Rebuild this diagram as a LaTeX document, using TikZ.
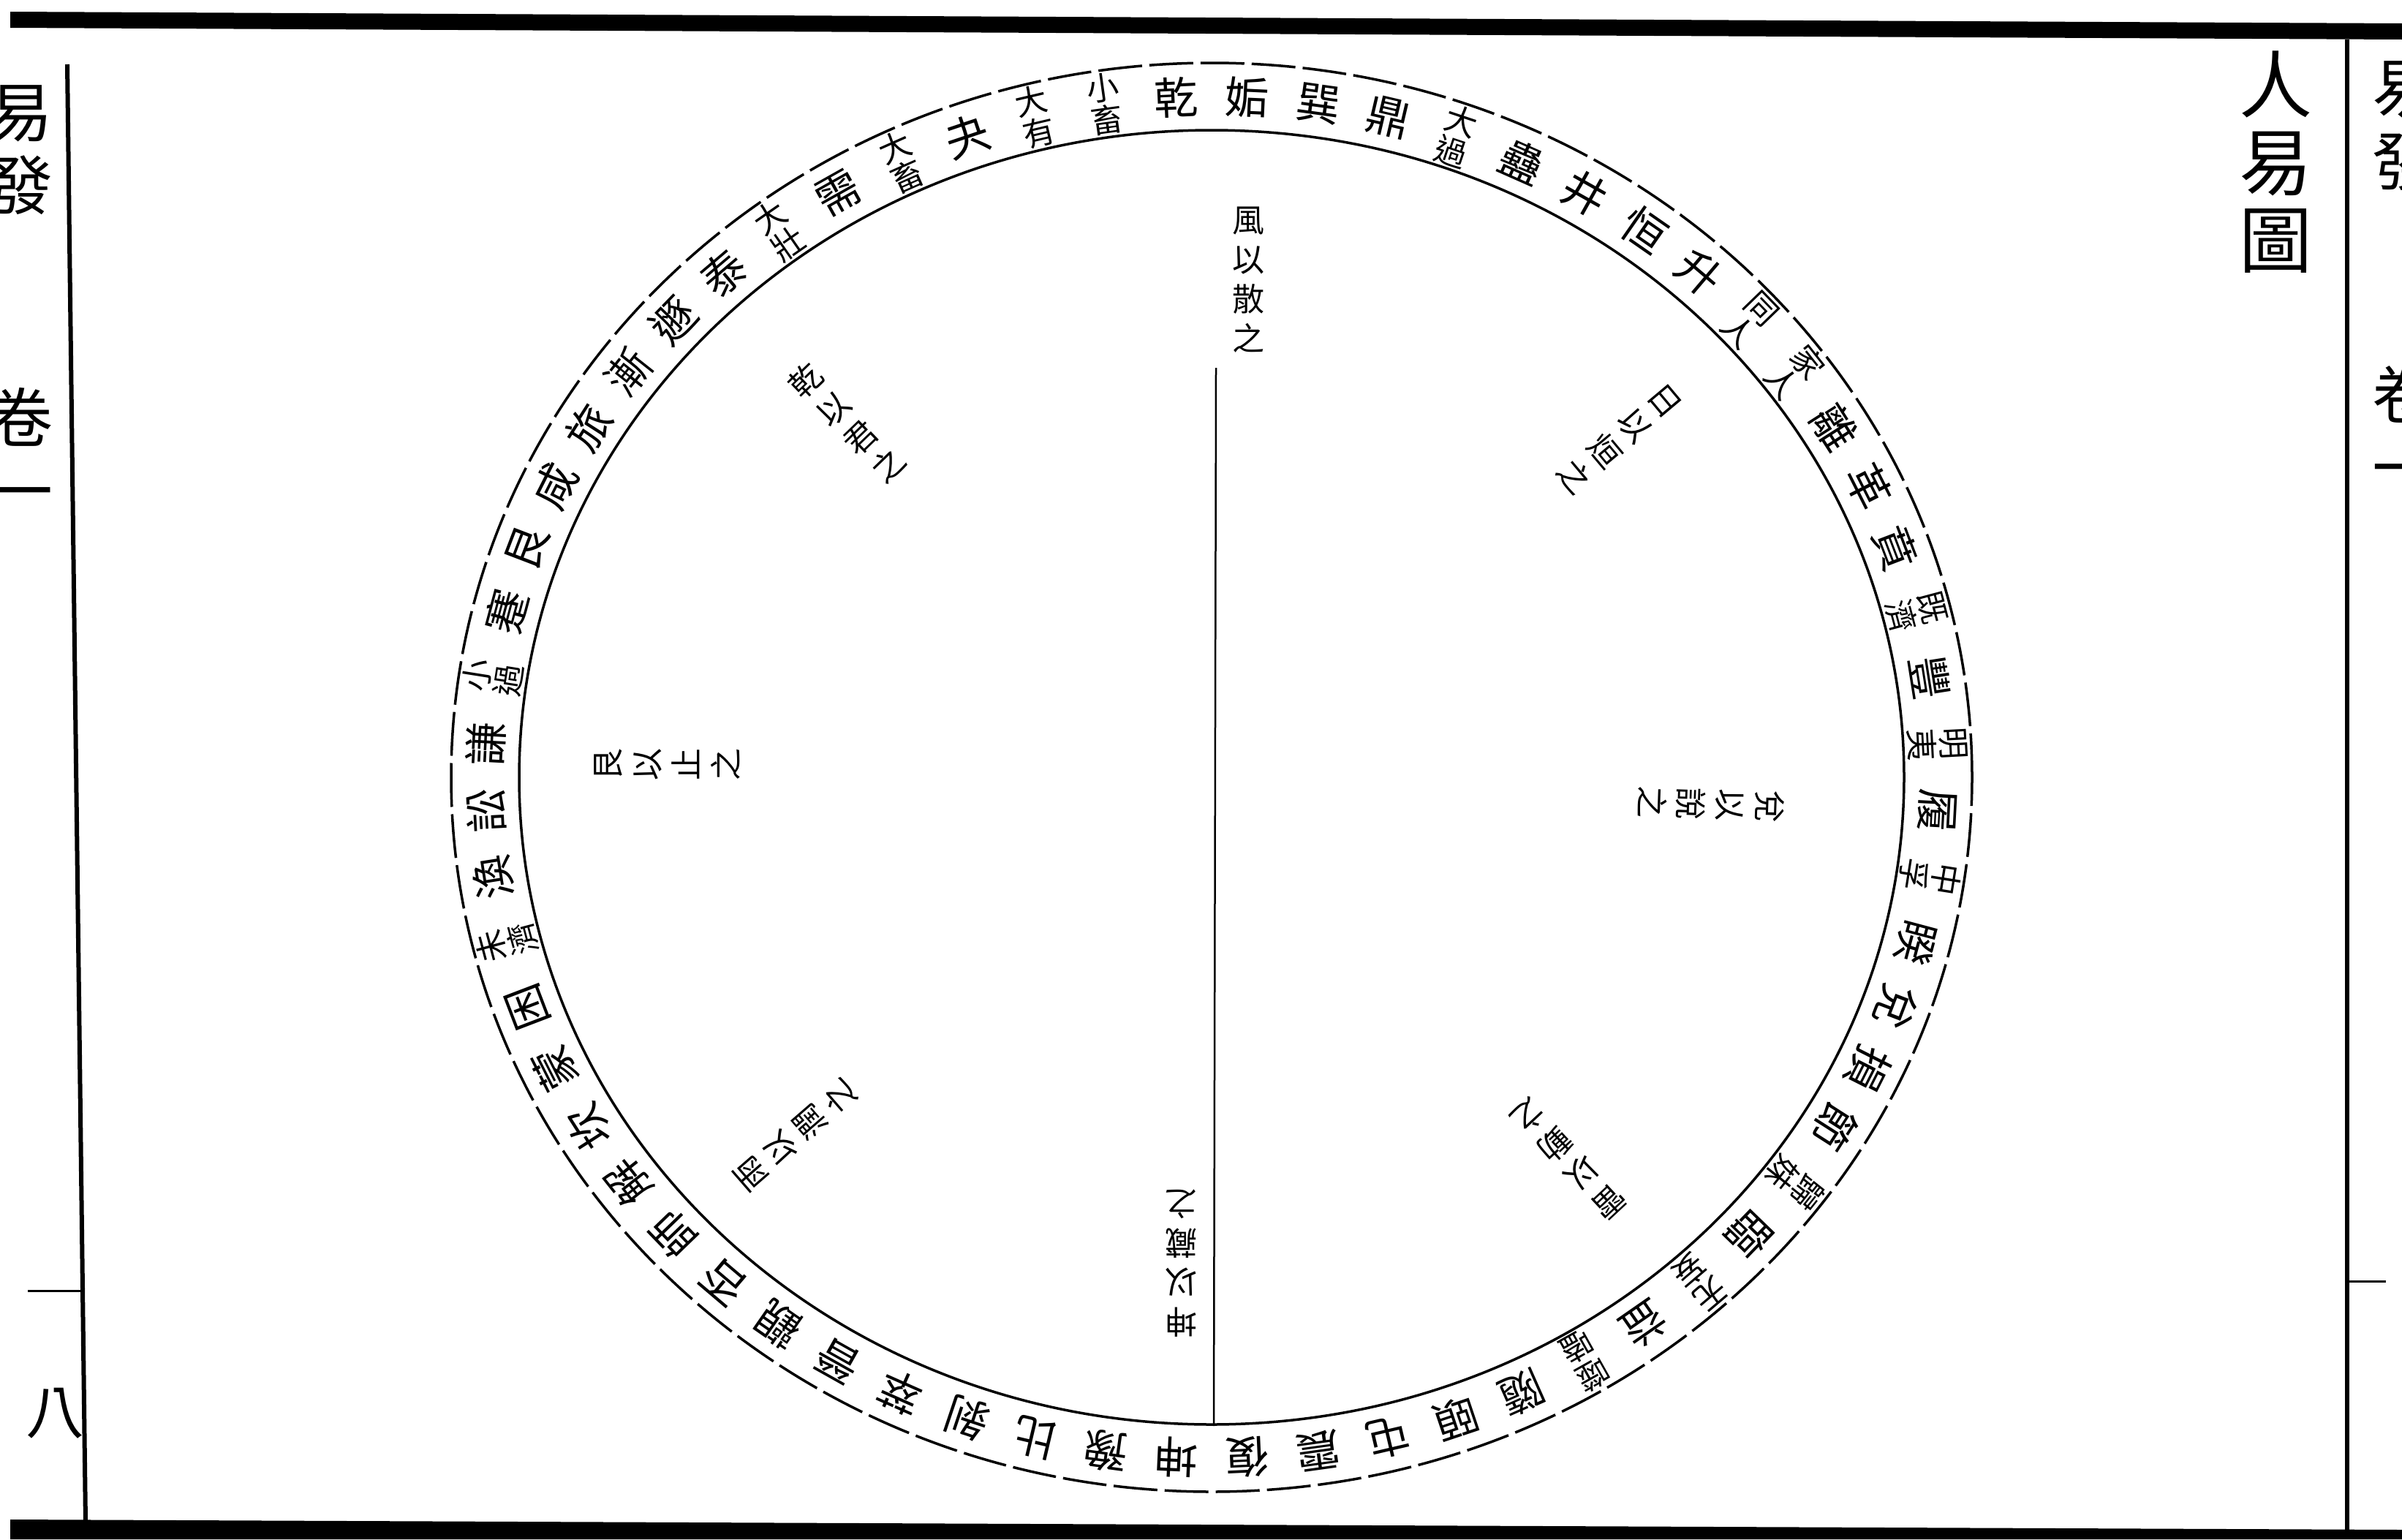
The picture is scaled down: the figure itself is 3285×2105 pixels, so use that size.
\documentclass[tikz,border=0pt]{standalone}
\usepackage{fontspec}
\newfontfamily\cjk{Noto Sans CJK TC}
\begin{document}
\begin{tikzpicture}[x=1pt,y=-1pt,
  rings/.style={font=\cjk\fontsize{60}{60}\selectfont, inner sep=0pt, align=center},
  ringp/.style={font=\cjk\fontsize{44}{44}\selectfont, inner sep=0pt, align=center},
  lab/.style={font=\cjk\fontsize{44}{54}\selectfont, inner sep=0pt, align=center},
  margin/.style={font=\cjk\fontsize{88}{100}\selectfont, inner sep=0pt, align=center},
  rule/.style={line width=6pt},
  ringline/.style={line width=3.5pt}]
\useasboundingbox (0,0) rectangle (3285,2105);
\fill[white] (0,0) rectangle (3285,2105);

% page bars
\fill (14,16) -- (3285,32) -- (3285,54) -- (14,38) -- cycle;
\fill (14,2078) -- (3285,2092) -- (3285,2105) -- (14,2105) -- cycle;

% margin rules
\draw[rule] (92,88) -- (117,2080);
\draw[rule] (3210,54) -- (3210,2095);
\draw[line width=3pt] (38,1765) -- (112,1765);
\draw[line width=3pt] (3207,1752) -- (3263,1752);

% margin texts
\node[margin] (lt1) at (28,205) {易\\發};
\node[margin] (lt2) at (28,617) {卷\\一};
\node[font=\cjk\fontsize{80}{80}\selectfont, inner sep=0pt] (lp) at (75,1933) {八};
\node[margin] (rt1) at (3288,172) {易\\發};
\node[margin] (rt2) at (3288,585) {卷\\一};
\node[font=\cjk\fontsize{100}{106}\selectfont, inner sep=0pt, align=center] (title) at (3112,222) {人\\易\\圖};

% ring
\coordinate (C) at (1657,1063);
\draw[ringline, dash pattern=on 60pt off 10pt] (C) ellipse [x radius=1040pt, y radius=977pt];
\draw[ringline] (C) ellipse [x radius=947pt, y radius=885pt];

% vertical line
\coordinate (vtop) at (1663,503);
\coordinate (vbot) at (1660,1950);
\draw[line width=2.5pt] (vtop) -- (vbot);

% 64 hexagram names, clockwise from the top
\foreach \t/\n [count=\i from 0, evaluate=\i as \a using 87.1875-5.625*\i] in {
  s/姤, s/巽, s/鼎, p/大\\過, s/蠱, s/井, s/恒, s/升,
  p/同\\人, p/家\\人, s/離, s/革, s/賁, p/既\\濟, s/豐, p/明\\夷,
  s/履, p/中\\孚, s/睽, s/兌, s/損, s/節, p/歸\\妹, s/臨,
  p/无\\妄, s/益, p/噬\\嗑, s/隨, s/頤, s/屯, s/震, s/復,
  s/坤, s/豫, s/比, s/剝, s/萃, s/晉, s/觀, s/否,
  s/師, s/解, s/坎, s/蒙, s/困, p/未\\濟, s/渙, s/訟,
  s/謙, p/小\\過, s/蹇, s/艮, s/咸, s/旅, s/漸, s/遯,
  s/泰, p/大\\壯, s/需, p/大\\畜, s/夬, p/大\\有, p/小\\畜, s/乾}{
  \pgfmathsetmacro\r{atan2(993.5*sin(\a),931*cos(\a))-90}
  \node[ring\t, rotate=\r] (h\i) at ({1657+993.5*cos(\a)},{1063-931*sin(\a)}) {\n};
}

% inner labels
\node[lab] (feng) at (1707,383) {風\\以\\散\\之};
\node[lab, rotate=44] (qian) at (1158,578) {乾\\以\\君\\之};
\node[lab, rotate=-50] (ri) at (2215,600) {日\\以\\烜\\之};
\node[lab, rotate=-92] (dui) at (2340,1100) {兌\\以\\說\\之};
\node[lab, rotate=-137] (lei) at (2145,1585) {雷\\以\\動\\之};
\node[lab, rotate=180] (kun) at (1615,1728) {坤\\以\\藏\\之};
\node[lab, rotate=131] (yu) at (1088,1552) {雨\\以\\潤\\之};
\node[lab, rotate=90] (gen) at (912,1045) {艮\\以\\止\\之};
\end{tikzpicture}
\end{document}
